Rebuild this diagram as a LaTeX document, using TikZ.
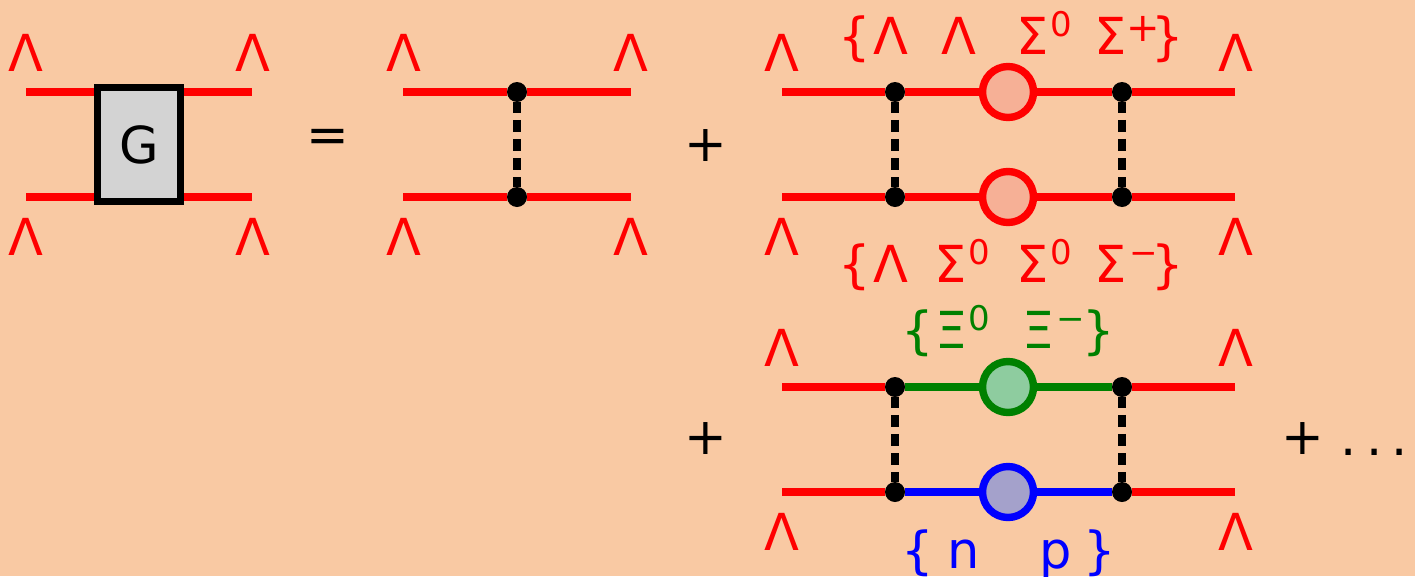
\documentclass[tikz,border=0pt]{standalone}
\usepackage{fontspec}
\setmainfont{DejaVu Sans}
\definecolor{bg}{HTML}{F9C9A3}
\definecolor{boxgray}{HTML}{D3D3D3}
\definecolor{rfill}{HTML}{F6B096}
\definecolor{gfill}{HTML}{8ECC9F}
\definecolor{bfill}{HTML}{A4A1CB}
\definecolor{dgreen}{HTML}{008000}
% place a glyph centred at a fixed offset from the start of a label
\newcommand\gat[2]{\rlap{\hspace*{#1pt}\makebox[0pt]{#2}}}
% raised, smaller charge/isospin index
\newcommand\idx[1]{\raisebox{18pt}{\fontsize{34}{40}\selectfont #1}}
\newcommand\idxplus{\raisebox{13pt}{\fontsize{40}{44}\selectfont +}}
\begin{document}
\begin{tikzpicture}[x=1pt,y=-1pt,
  wire/.style={line width=7.4pt, red},
  gwire/.style={line width=7.4pt, dgreen},
  bwire/.style={line width=7.4pt, blue},
  prop/.style={line width=7.4pt, black, dash pattern=on 12.4pt off 6.7pt, dash phase=1.5pt},
  vtx/.style={circle, fill=black, inner sep=0pt, minimum size=20pt},
  loopr/.style={circle, draw=red, line width=7.4pt, fill=rfill, inner sep=0pt, minimum size=51pt},
  loopg/.style={circle, draw=dgreen, line width=7.4pt, fill=gfill, inner sep=0pt, minimum size=51pt},
  loopb/.style={circle, draw=blue, line width=7.4pt, fill=bfill, inner sep=0pt, minimum size=51pt},
  lab/.style={inner sep=0pt, font=\fontsize{51}{60}\selectfont},
  lam/.style={lab, text=red, anchor=base},
  grp/.style={lab, anchor=base west}]
\fill[bg] (0,0) rectangle (1415,576);
\useasboundingbox (0,0) rectangle (1415,576);

% ---- full four-point function G ----
\coordinate (g1l) at (26,92);  \coordinate (g1r) at (252,92);
\coordinate (g2l) at (26,197); \coordinate (g2r) at (252,197);
\draw[wire] (g1l) -- (g1r);
\draw[wire] (g2l) -- (g2r);
\node[draw=black, line width=7.4pt, fill=boxgray, minimum width=83pt, minimum height=114pt,
      inner sep=0pt, font=\fontsize{51}{60}\selectfont] (G) at (139,144.5) {G};
\node[lam] (gla) at (25.5,71) {Λ};
\node[lam] (glb) at (252.5,71) {Λ};
\node[lam] (glc) at (25.5,255) {Λ};
\node[lam] (gld) at (252.5,255) {Λ};
\node[lab] (eq) at (328,141) {=};

% ---- single exchange ----
\coordinate (a1l) at (403,92);  \coordinate (a1r) at (631,92);
\coordinate (a2l) at (403,197); \coordinate (a2r) at (631,197);
\node[vtx] (av1) at (517,92) {};
\node[vtx] (av2) at (517,197) {};
\draw[wire] (a1l) -- (av1) -- (a1r);
\draw[wire] (a2l) -- (av2) -- (a2r);
\draw[prop] (av1) -- (av2);
\node[lam] (ala) at (403.5,71) {Λ};
\node[lam] (alb) at (630.5,71) {Λ};
\node[lam] (alc) at (403.5,255) {Λ};
\node[lam] (ald) at (630.5,255) {Λ};
\node[lab] (plus1) at (706,146) {+};

% ---- box with hyperon pair in the loop ----
\coordinate (b1l) at (782,92);  \coordinate (b1r) at (1235,92);
\coordinate (b2l) at (782,197); \coordinate (b2r) at (1235,197);
\node[vtx] (bv1) at (895,92) {};
\node[vtx] (bv2) at (1122,92) {};
\node[vtx] (bv3) at (895,197) {};
\node[vtx] (bv4) at (1122,197) {};
\node[loopr] (bc1) at (1008,92) {};
\node[loopr] (bc2) at (1008,197) {};
\draw[wire] (b1l) -- (bv1) -- (bc1) -- (bv2) -- (b1r);
\draw[wire] (b2l) -- (bv3) -- (bc2) -- (bv4) -- (b2r);
\draw[prop] (bv1) -- (bv3);
\draw[prop] (bv2) -- (bv4);
\node[lam] (bla) at (782,71) {Λ};
\node[lam] (blb) at (1236,71) {Λ};
\node[lam] (blc) at (782,255) {Λ};
\node[lam] (bld) at (1236,255) {Λ};
\node[grp, text=red] (btop) at (840,54)
  {\gat{14}{\{}\gat{50}{Λ}\gat{118.5}{Λ}\gat{192}{Σ}\gat{220.5}{\idx{0}}\gat{270}{Σ}\gat{302.5}{\idxplus}\gat{327.5}{\}}};
\node[grp, text=red] (bbot) at (840,282)
  {\gat{14}{\{}\gat{50}{Λ}\gat{110}{Σ}\gat{138.5}{\idx{0}}\gat{192}{Σ}\gat{220.5}{\idx{0}}\gat{270}{Σ}\gat{303.5}{\idx{−}}\gat{327.5}{\}}};

% ---- box with cascade / nucleon in the loop ----
\coordinate (c1l) at (782,387);  \coordinate (c1r) at (1235,387);
\coordinate (c2l) at (782,492);  \coordinate (c2r) at (1235,492);
\node[vtx] (cv1) at (895,387) {};
\node[vtx] (cv2) at (1122,387) {};
\node[vtx] (cv3) at (895,492) {};
\node[vtx] (cv4) at (1122,492) {};
\node[loopg] (cc1) at (1008,387) {};
\node[loopb] (cc2) at (1008,492) {};
\draw[wire] (c1l) -- (cv1);
\draw[gwire] (cv1) -- (cc1) -- (cv2);
\draw[wire] (cv2) -- (c1r);
\draw[wire] (c2l) -- (cv3);
\draw[bwire] (cv3) -- (cc2) -- (cv4);
\draw[wire] (cv4) -- (c2r);
\draw[prop] (cv1) -- (cv3);
\draw[prop] (cv2) -- (cv4);
\node[lam] (cla) at (782,366) {Λ};
\node[lam] (clb) at (1236,366) {Λ};
\node[lam] (clc) at (782,550) {Λ};
\node[lam] (cld) at (1236,550) {Λ};
\node[grp, text=dgreen] (ctop) at (900,348)
  {\gat{17.5}{\{}\gat{50.5}{Ξ}\gat{78.5}{\idx{0}}\gat{137.5}{Ξ}\gat{170}{\idx{−}}\gat{198}{\}}};
\node[grp, text=blue] (cbot) at (900,568)
  {\gat{17.5}{\{}\gat{63.5}{n}\gat{155.5}{p}\gat{199}{\}}};
\node[lab] (plus2) at (706,439) {+};
\node[lab] (plus3) at (1303,439) {+};
\node[grp] (dots) at (1340,455) {\gat{8}{.}\gat{33.5}{.}\gat{59}{.}};
\end{tikzpicture}
\end{document}
